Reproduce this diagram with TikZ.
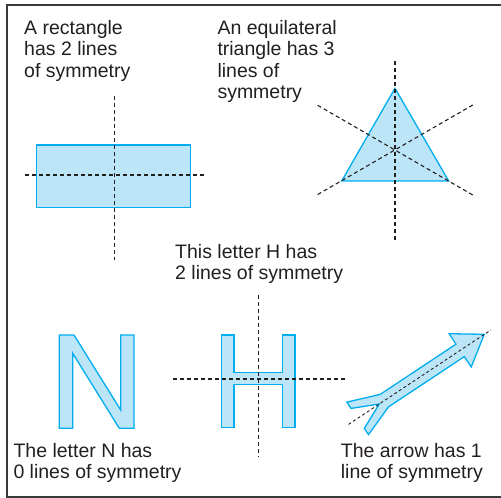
\documentclass[tikz,border=0pt]{standalone}
\usepackage{fontspec}
\setmainfont{Liberation Sans}
\definecolor{fillblue}{HTML}{BDE5F8}
\definecolor{edgeblue}{HTML}{00AEEF}
\definecolor{ink}{HTML}{231F20}
\definecolor{frame}{HTML}{3A3A3A}
\tikzset{
  shapefill/.style={fill=fillblue,draw=edgeblue,line width=1.3pt,line join=miter},
  symline/.style={draw=ink,line width=1.1pt,dash pattern=on 4pt off 3pt},
  caption/.style={anchor=base west,inner sep=0pt,align=left,text=ink,
    font=\fontsize{19.5}{21.5}\selectfont},
}
\begin{document}
\begin{tikzpicture}[x=1pt,y=-1pt]
\useasboundingbox (0,0) rectangle (501,498);
% frame
\draw[frame,line width=1.6pt] (501,5) -- (7,5) -- (7,497) -- (501,497);

% rectangle (caption anchored at baseline of its last line)
\node[caption] (trect) at (24,77) {A rectangle\\has 2 lines\\of symmetry};
\path[shapefill] (36.7,145) rectangle (190.7,207.7);
\coordinate (rv1) at (114.3,95.7); \coordinate (rv2) at (114.3,260);
\coordinate (rh1) at (25,175); \coordinate (rh2) at (206.7,175);
\draw[symline] (rv1) -- (rv2);
\draw[symline] (rh1) -- (rh2);

% triangle
\node[caption] (ttri) at (217.3,98.5) {An equilateral\\triangle has 3\\lines of\\symmetry};
\path[shapefill] (395,88.3) -- (448.7,181) -- (341.7,181) -- cycle;
\draw[symline] (395,61) -- (395,241.7);
\draw[symline] (317.7,105.3) -- (475,196.3);
\draw[symline] (317.7,194.5) -- (475,103.7);

% H
\node[caption] (th) at (175,279.8) {This letter H has\\2 lines of symmetry};
\path[shapefill] (221.7,335) -- (234,335) -- (234,372.7) -- (282.3,372.7) -- (282.3,335)
  -- (295,335) -- (295,427.7) -- (282.3,427.7) -- (282.3,384.3) -- (234,384.3)
  -- (234,427.7) -- (221.7,427.7) -- cycle;
\draw[symline] (258.3,295) -- (258.3,456.7);
\draw[symline] (173,379) -- (345,379);

% N
\node[caption] (tn) at (13.3,478.8) {The letter N has\\0 lines of symmetry};
\path[shapefill] (59.3,335) -- (74,335) -- (120.7,410) -- (120.7,335) -- (134,335)
  -- (134,428.3) -- (119.3,428.3) -- (72.7,353.3) -- (72.7,428.3) -- (59.3,428.3) -- cycle;

% arrow
\node[caption] (ta) at (340.7,478.8) {The arrow has 1\\line of symmetry};
\path[shapefill] (484.3,334.3) -- (471.2,367.0) -- (464.3,356.6) -- (388.5,406.9)
  -- (368.5,434.6) -- (364.3,428.4) -- (379.3,404.0) -- (351.1,408.4) -- (346.9,402.1)
  -- (380.2,394.4) -- (456.0,344.1) -- (449.1,333.7) -- cycle;
\draw[symline,line width=0.9pt,dash pattern=on 3pt off 2.5pt] (348.5,424.4) -- (491,329.9);
\end{tikzpicture}
\end{document}
